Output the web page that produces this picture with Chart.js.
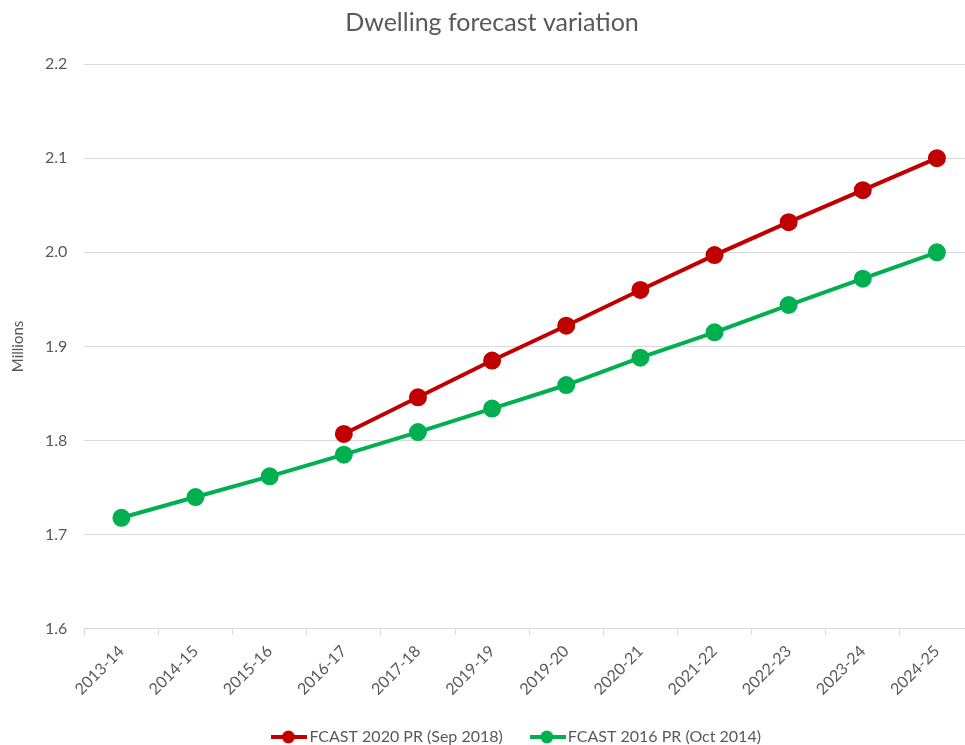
<!DOCTYPE html>
<html>
<head>
<meta charset="utf-8">
<script src="https://cdn.jsdelivr.net/npm/chart.js@4.4.1/dist/chart.umd.min.js"></script>
<style>
  html, body { margin: 0; padding: 0; background: #fff; overflow: hidden; }
  #wrap { width: 985px; height: 755px; }
</style>
</head>
<body>
<div id="wrap"><canvas id="dwelling-chart"></canvas></div>
<script>
// Financial years on the x axis (label text kept as published)
const years = [
  '2013-14', '2014-15', '2015-16', '2016-17', '2017-18', '2019-19',
  '2019-20', '2020-21', '2021-22', '2022-23', '2023-24', '2024-25',
];

// Dwellings, millions
const fcast2020 = [null, null, null, 1.807, 1.846, 1.885, 1.922, 1.960, 1.997, 2.032, 2.066, 2.100];
const fcast2016 = [1.718, 1.740, 1.762, 1.785, 1.809, 1.834, 1.859, 1.888, 1.915, 1.944, 1.972, 2.000];

const yTicks = [1.6, 1.7, 1.8, 1.9, 2.0, 2.1, 2.2];

const RED = '#C00000';
const GREEN = '#00B050';
const TEXT = '#595959';
const FONT = 'Lato, "Open Sans", sans-serif';

// line-with-dot swatch for the legend; wider than the legend box so it
// runs right up to the label text
function legendSwatch(color) {
  const c = document.createElement('canvas');
  c.width = 36;
  c.height = 14;
  const g = c.getContext('2d');
  g.strokeStyle = color;
  g.lineWidth = 4;
  g.beginPath();
  g.moveTo(0, 7);
  g.lineTo(36, 7);
  g.stroke();
  g.fillStyle = color;
  g.beginPath();
  g.arc(17, 7, 6.5, 0, Math.PI * 2);
  g.fill();
  return c;
}

const swatches = [legendSwatch(RED), legendSwatch(GREEN)];

// nudge the legend row to sit under the middle of the plot area
const legendShift = {
  id: 'legendShift',
  afterLayout(chart) {
    const lg = chart.legend;
    if (!lg) return;
    const dx = (chart.chartArea.left + chart.chartArea.right) / 2 - (lg.left + lg.right) / 2 - 10;
    lg.left += dx;
    lg.right += dx;
  },
};

const dwellingData = {
  labels: years,
  datasets: [
    {
      label: 'FCAST 2020 PR (Sep 2018)',
      data: fcast2020,
      borderColor: RED,
      backgroundColor: RED,
      borderWidth: 4,
      pointRadius: 7,
      pointHoverRadius: 7,
    },
    {
      label: 'FCAST 2016 PR (Oct 2014)',
      data: fcast2016,
      borderColor: GREEN,
      backgroundColor: GREEN,
      borderWidth: 4,
      pointRadius: 7,
      pointHoverRadius: 7,
    },
  ],
};

const dwellingOptions = {
  responsive: true,
  maintainAspectRatio: false,
  animation: false,
  layout: {
    padding: { top: 4, right: 10, bottom: 0, left: 9 },
  },
  scales: {
    x: {
      offset: true,
      afterFit: (scale) => {
        scale.height -= 10;
      },
      grid: {
        offset: true,
        drawOnChartArea: false,
        tickLength: 6,
        color: '#d9d9d9',
      },
      border: { color: '#d9d9d9' },
      ticks: {
        minRotation: 45,
        maxRotation: 45,
        color: TEXT,
        padding: 7,
        font: { family: FONT, size: 16 },
      },
    },
    y: {
      min: 1.6,
      max: 2.2,
      afterBuildTicks: (axis) => {
        axis.ticks = yTicks.map((v) => ({ value: v }));
      },
      grid: {
        color: '#d9d9d9',
        drawTicks: false,
      },
      border: { display: false },
      ticks: {
        color: TEXT,
        padding: 17,
        font: { family: FONT, size: 16 },
        callback: (v) => v.toFixed(1),
      },
      title: {
        display: true,
        text: 'Millions',
        color: TEXT,
        padding: { top: 0, bottom: 1 },
        font: { family: FONT, size: 15 },
      },
    },
  },
  plugins: {
    title: {
      display: true,
      text: 'Dwelling forecast variation',
      color: TEXT,
      padding: { top: 4, bottom: 26 },
      font: { family: FONT, size: 25, weight: 'normal' },
    },
    legend: {
      position: 'bottom',
      labels: {
        usePointStyle: true,
        pointStyleWidth: 24,
        padding: 33,
        color: TEXT,
        font: { family: FONT, size: 16 },
        generateLabels: (chart) =>
          Chart.defaults.plugins.legend.labels.generateLabels(chart).map((item, i) => {
            item.pointStyle = swatches[i];
            return item;
          }),
      },
    },
    tooltip: { enabled: false },
  },
};

new Chart(document.getElementById('dwelling-chart'), {
  type: 'line',
  data: dwellingData,
  options: dwellingOptions,
  plugins: [legendShift],
});
</script>
</body>
</html>
